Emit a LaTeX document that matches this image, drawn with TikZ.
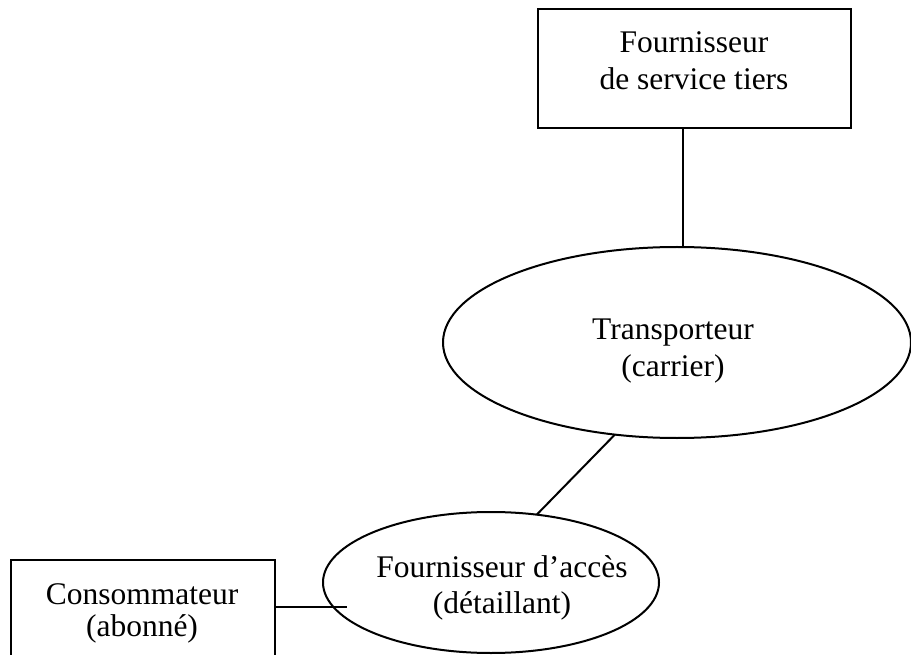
\documentclass[tikz,border=0pt]{standalone}
\usepackage{fontspec}
\setmainfont{Liberation Serif}
\usetikzlibrary{shapes.geometric}
\begin{document}
\begin{tikzpicture}[x=1pt,y=-1pt,
  every node/.style={inner sep=0pt, outer sep=0pt},
  box/.style={draw, line width=2.5pt, rectangle},
  oval/.style={draw, line width=2pt, ellipse},
  txt/.style={anchor=base, font=\fontsize{31.5}{36.5}\selectfont},
  link/.style={line width=2pt}]
  \useasboundingbox (0,0) rectangle (911,655);
  \clip (0,0) rectangle (911,655);

  % shapes
  \node[box, minimum width=313pt, minimum height=119pt] (tiers) at (694.5,68.5) {};
  \node[oval, minimum width=468pt, minimum height=191pt] (carrier) at (677,342.5) {};
  \node[oval, minimum width=336pt, minimum height=141pt] (acces) at (491,582.5) {};
  \node[box, minimum width=264pt, minimum height=130pt] (conso) at (143,625) {};

  % labels
  \node[txt] (tiersA) at (694,53) {Fournisseur};
  \node[txt] (tiersB) at (694,90) {de service tiers};
  \node[txt] (carrierA) at (673,339) {Transporteur};
  \node[txt] (carrierB) at (673,376) {(carrier)};
  \node[txt] (accesA) at (502,577) {Fournisseur d’accès};
  \node[txt] (accesB) at (502,613) {(détaillant)};
  \node[txt] (consoA) at (142,604) {Consommateur};
  \node[txt] (consoB) at (142,636) {(abonné)};

  % connectors
  \coordinate (up) at (683,0);
  \coordinate (stub) at (347,607);
  \draw[link] (tiers.south -| up) -- (carrier.north -| up);
  \draw[link] (carrier.236) -- (acces.56);
  \draw[link] (stub -| conso.east) -- (stub);
\end{tikzpicture}
\end{document}
